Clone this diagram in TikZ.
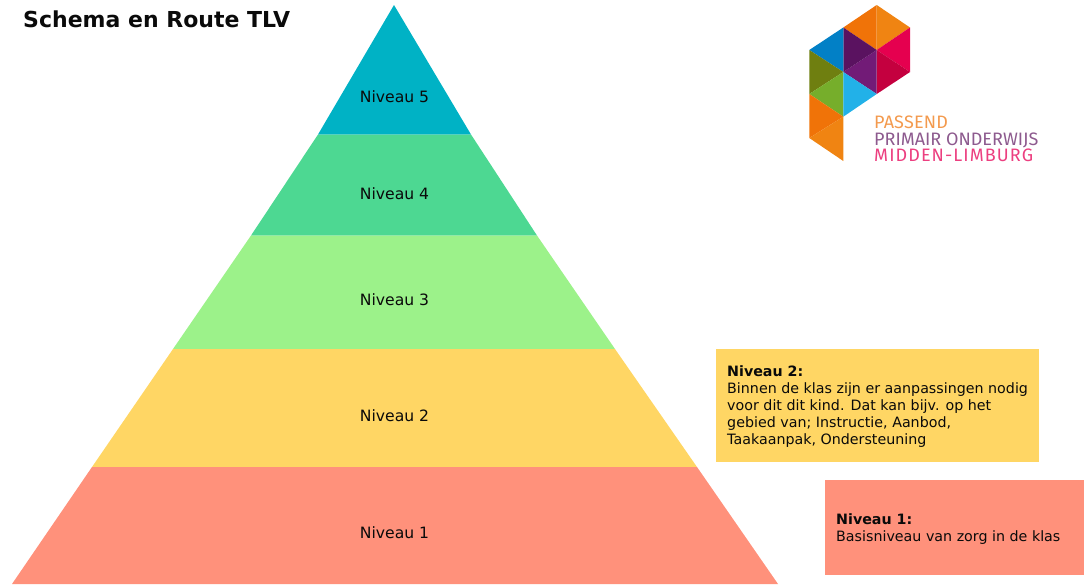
\documentclass[tikz,border=0pt]{standalone}
\usepackage{fontspec}
\setmainfont{DejaVu Sans}
\newfontfamily\logofont{Fira Sans}
\definecolor{teal5}{HTML}{00B2C5}
\definecolor{green4}{HTML}{4DD892}
\definecolor{green3}{HTML}{9CF28A}
\definecolor{yellow2}{HTML}{FFD664}
\definecolor{salmon1}{HTML}{FF917B}
\definecolor{txt}{HTML}{0A0A0A}
\definecolor{lgOrD}{HTML}{F07308}
\definecolor{lgOrL}{HTML}{F08412}
\definecolor{lgPink}{HTML}{E5004F}
\definecolor{lgCrim}{HTML}{C4003F}
\definecolor{lgPur}{HTML}{721B77}
\definecolor{lgPurD}{HTML}{5A1260}
\definecolor{lgBlue}{HTML}{0280C6}
\definecolor{lgOlive}{HTML}{6F7F10}
\definecolor{lgGreen}{HTML}{76AE2B}
\definecolor{lgSky}{HTML}{22B1E8}
\definecolor{lgTP}{HTML}{F39A4E}
\definecolor{lgTV}{HTML}{8D5A8E}
\definecolor{lgTM}{HTML}{EC3F80}
\tikzset{
  lvl/.style={font=\fontsize{15.6}{18}\selectfont, text=txt, inner sep=0pt, anchor=center},
  boxtxt/.style={font=\fontsize{14.25}{17}\selectfont, text=txt, inner sep=0pt, anchor=base west, align=left},
  logotxt/.style={inner sep=0pt, anchor=base west, font=\logofont\fontsize{18}{18}\selectfont},
}
\begin{document}
\begin{tikzpicture}[x=1pt,y=-1pt]
\useasboundingbox (0,0) rectangle (1084,584);
% pyramid
\fill[teal5] (394,5) -- (471,134.5) -- (318,134.5) -- cycle;
\fill[green4] (318,134.5) -- (471,134.5) -- (537,235.5) -- (251,235.5) -- cycle;
\fill[green3] (251,235.5) -- (537,235.5) -- (615,349) -- (173,349) -- cycle;
\fill[yellow2] (173,349) -- (615,349) -- (697,467) -- (92,467) -- cycle;
\fill[salmon1] (92,467) -- (697,467) -- (778,584) -- (12,584) -- cycle;
\node[lvl] (n5) at (394.5,97) {Niveau 5};
\node[lvl] (n4) at (394.5,194) {Niveau 4};
\node[lvl] (n3) at (394.5,300) {Niveau 3};
\node[lvl] (n2) at (394.5,416) {Niveau 2};
\node[lvl] (n1) at (394.5,533) {Niveau 1};
% title
\node[inner sep=0pt, anchor=base west, font=\bfseries\fontsize{22}{24}\selectfont, text=txt] (title) at (23,27.5) {Schema en Route TLV};
% boxes
\fill[yellow2] (716,349) rectangle (1039,462);
\fill[salmon1] (825,480) rectangle (1084,575);
\node[boxtxt] (t2) at (727,444.5) {\textbf{Niveau 2:}\\Binnen de klas zijn er aanpassingen nodig\\voor dit dit kind. Dat kan bijv. op het\\gebied van; Instructie, Aanbod,\\Taakaanpak, Ondersteuning};
\node[boxtxt] (t1) at (836,541.5) {\textbf{Niveau 1:}\\Basisniveau van zorg in de klas};
% logo
\fill[lgOrD] (843.3,27.5) -- (876.7,5) -- (876.7,50) -- cycle;
\fill[lgOrL] (876.7,5) -- (910,27.5) -- (876.7,50) -- cycle;
\fill[lgPink] (910,27.5) -- (910,72) -- (876.7,50) -- cycle;
\fill[lgCrim] (876.7,50) -- (910,72) -- (876.7,94) -- cycle;
\fill[lgPur] (843.3,72) -- (876.7,50) -- (876.7,94) -- cycle;
\fill[lgPurD] (843.3,27.5) -- (876.7,50) -- (843.3,72) -- cycle;
\fill[lgBlue] (809.3,50) -- (843.3,27.5) -- (843.3,72) -- cycle;
\fill[lgOlive] (809.3,50) -- (843.3,72) -- (809.3,94) -- cycle;
\fill[lgGreen] (809.3,94) -- (843.3,72) -- (843.3,116.7) -- cycle;
\fill[lgSky] (843.3,72) -- (876.7,94) -- (843.3,116.7) -- cycle;
\fill[lgOrD] (809.3,94) -- (843.3,116.7) -- (809.3,138) -- cycle;
\fill[lgOrL] (809.3,138) -- (843.3,116.7) -- (843.3,161) -- cycle;
\node[logotxt, text=lgTP] (lg1) at (874,128.5) {\addfontfeature{LetterSpace=1}PASSEND};
\node[logotxt, text=lgTV] (lg2) at (874,145) {PRIMAIR ONDERWIJS};
\node[logotxt, text=lgTM] (lg3) at (874,161.5) {\addfontfeature{LetterSpace=6}MIDDEN-LIMBURG};
\end{tikzpicture}
\end{document}
